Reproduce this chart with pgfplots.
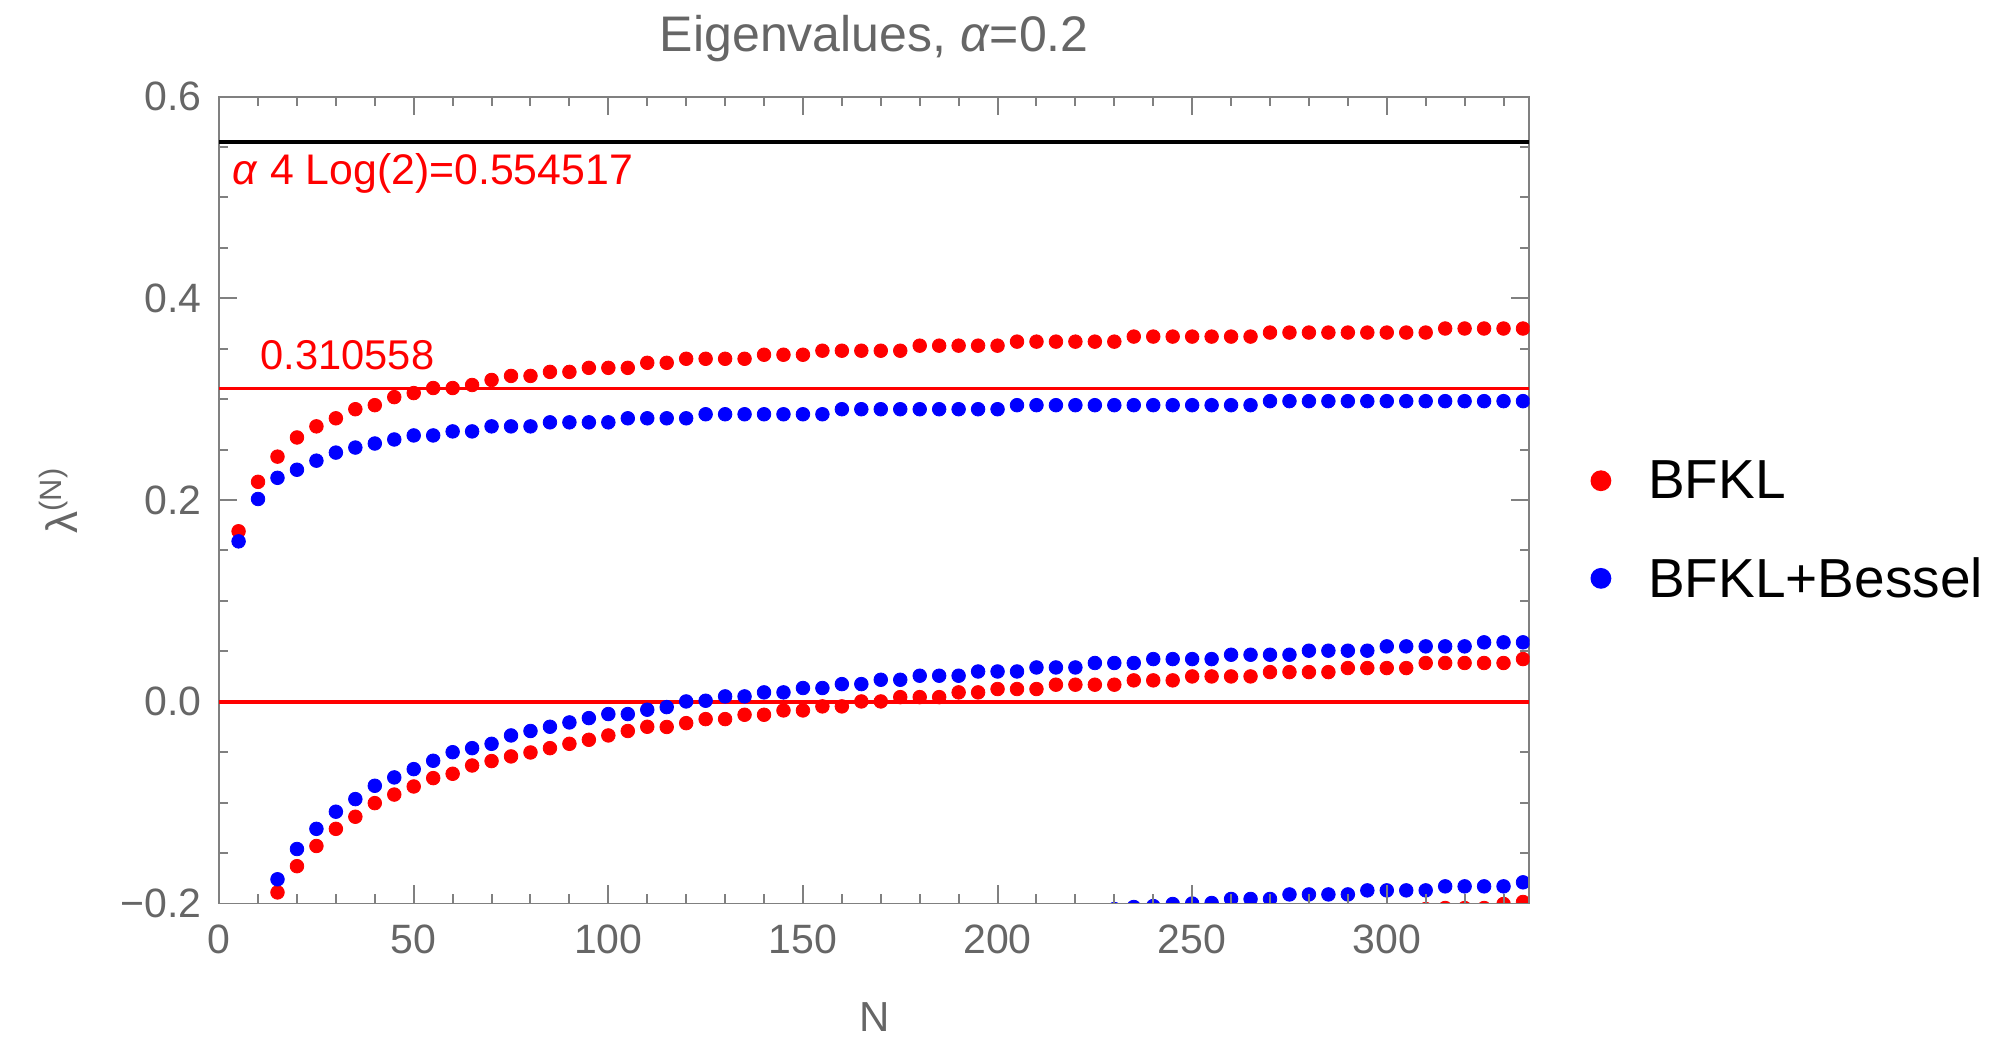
\documentclass[border=0pt]{standalone}
\usepackage{pgfplots}
\pgfplotsset{compat=1.18}
\usepackage{fontspec}
\setmainfont{Liberation Sans}
\definecolor{fgray}{rgb}{0.5,0.5,0.5}
\definecolor{tgray}{rgb}{0.4,0.4,0.4}
\begin{document}
\begin{tikzpicture}
\useasboundingbox (0,0) rectangle (498.25bp,259.75bp);
% helper axis: the third branch, whose points lie on or just below the lower frame edge
\begin{scope}
\clip (54.78bp,33.875bp) rectangle (382.36bp,235.625bp);
\begin{axis}[
  at={(54.78bp,31.353bp)}, anchor=south west,
  scale only axis, width=327.58bp, height=204.27bp,
  xmin=0, xmax=336.66, ymin=-0.21, ymax=0.6,
  hide axis, clip marker paths=true,
]
\addplot[only marks, mark=*, red, mark size=1.7bp, mark options={line width=0.2bp}] coordinates {
(310,-0.2055)(315,-0.2045)(320,-0.2045)(325,-0.2045)(330,-0.2005)(335,-0.1985)};
\addplot[only marks, mark=*, blue, mark size=1.7bp, mark options={line width=0.2bp}] coordinates {
(230,-0.2055)(235,-0.2035)(240,-0.2025)(245,-0.2005)(250,-0.200)(255,-0.1995)(260,-0.1955)(265,-0.1955)(270,-0.1955)(275,-0.191)
(280,-0.191)(285,-0.191)(290,-0.191)(295,-0.187)(300,-0.187)(305,-0.187)(310,-0.187)(315,-0.183)(320,-0.183)(325,-0.183)
(330,-0.183)(335,-0.179)};
\end{axis}
\end{scope}
\begin{axis}[
  at={(54.78bp,33.875bp)}, anchor=south west,
  scale only axis, width=327.58bp, height=201.75bp,
  xmin=0, xmax=336.66, ymin=-0.2, ymax=0.6,
  clip marker paths=true,
  axis line style={fgray, line width=0.5bp},
  tick style={fgray, line width=0.5bp},
  tick align=inside,
  major tick length=4.5bp, minor tick length=2.25bp,
  xtick={0,50,100,150,200,250,300}, xticklabels={0,50,100,150,200,250,300},
  minor xtick={10,20,30,40,60,70,80,90,110,120,130,140,160,170,180,190,210,220,230,240,260,270,280,290,310,320,330},
  ytick={-0.2,0,0.2,0.4,0.6}, yticklabels={−0.2,0.0,0.2,0.4,0.6},
  minor ytick={-0.15,-0.1,-0.05,0.05,0.1,0.15,0.25,0.3,0.35,0.45,0.5,0.55},
  tick label style={font=\fontsize{10.25bp}{12bp}\selectfont, text=tgray},
  xticklabel style={inner sep=0pt, anchor=north, yshift=-5.1bp},
  yticklabel style={inner sep=0pt, anchor=east, xshift=-4.25bp},
  title={Eigenvalues, \textit{α}=0.2},
  every axis title/.style={at={(axis description cs:0.5,1.0555)}, anchor=base, inner sep=0pt, font=\fontsize{12.5bp}{15bp}\selectfont, text=tgray},
  xlabel={N},
  x label style={at={(axis description cs:0.5,-0.1408)}, anchor=center, inner sep=0pt, font=\fontsize{10.5bp}{12bp}\selectfont, text=tgray},
  ylabel={λ\textsuperscript{(N)}},
  y label style={at={(axis description cs:-0.1226,0.5)}, anchor=center, inner sep=0pt, font=\fontsize{11bp}{13bp}\selectfont, text=tgray},
  legend cell align=left,
  legend style={at={(axis description cs:1.0466,0.5483)}, anchor=north west, draw=none, fill=none, inner sep=0pt, outer sep=0pt,
    font=\fontsize{13.75bp}{16bp}\selectfont, row sep=13.2bp, column sep=9.2bp, nodes={inner sep=0pt}},
]
% grid lines
\addplot[black, line width=1bp, forget plot] coordinates {(0,0.554517) (336.66,0.554517)};
\addplot[red, line width=0.9bp, forget plot] coordinates {(0,0.310558) (336.66,0.310558)};
\addplot[red, line width=0.9bp, forget plot] coordinates {(0,0) (336.66,0)};
% BFKL (red)
\addplot[only marks, mark=*, red, mark size=1.7bp, mark options={line width=0.2bp},
  legend image code/.code={\fill[red] (0bp,0.55bp) circle (2.4bp);}] coordinates {
(5,0.169)(10,0.218)(15,0.243)(20,0.262)(25,0.273)(30,0.281)(35,0.290)(40,0.294)(45,0.302)(50,0.306)
(55,0.311)(60,0.311)(65,0.314)(70,0.319)(75,0.323)(80,0.323)(85,0.327)(90,0.327)(95,0.331)(100,0.331)
(105,0.331)(110,0.336)(115,0.336)(120,0.340)(125,0.340)(130,0.340)(135,0.340)(140,0.344)(145,0.344)(150,0.344)
(155,0.348)(160,0.348)(165,0.348)(170,0.348)(175,0.348)(180,0.353)(185,0.353)(190,0.353)(195,0.353)(200,0.353)
(205,0.357)(210,0.357)(215,0.357)(220,0.357)(225,0.357)(230,0.357)(235,0.362)(240,0.362)(245,0.362)(250,0.362)
(255,0.362)(260,0.362)(265,0.362)(270,0.366)(275,0.366)(280,0.366)(285,0.366)(290,0.366)(295,0.366)(300,0.366)
(305,0.366)(310,0.366)(315,0.370)(320,0.370)(325,0.370)(330,0.370)(335,0.370)};
\addlegendentry{BFKL}
% BFKL+Bessel (blue)
\addplot[only marks, mark=*, blue, mark size=1.7bp, mark options={line width=0.2bp},
  legend image code/.code={\fill[blue] (0bp,0.55bp) circle (2.4bp);}] coordinates {
(5,0.159)(10,0.201)(15,0.222)(20,0.230)(25,0.239)(30,0.247)(35,0.252)(40,0.256)(45,0.260)(50,0.264)
(55,0.264)(60,0.268)(65,0.268)(70,0.273)(75,0.273)(80,0.273)(85,0.277)(90,0.277)(95,0.277)(100,0.277)
(105,0.281)(110,0.281)(115,0.281)(120,0.281)(125,0.285)(130,0.285)(135,0.285)(140,0.285)(145,0.285)(150,0.285)
(155,0.285)(160,0.290)(165,0.290)(170,0.290)(175,0.290)(180,0.290)(185,0.290)(190,0.290)(195,0.290)(200,0.290)
(205,0.294)(210,0.294)(215,0.294)(220,0.294)(225,0.294)(230,0.294)(235,0.294)(240,0.294)(245,0.294)(250,0.294)
(255,0.294)(260,0.294)(265,0.294)(270,0.298)(275,0.298)(280,0.298)(285,0.298)(290,0.298)(295,0.298)(300,0.298)
(305,0.298)(310,0.298)(315,0.298)(320,0.298)(325,0.298)(330,0.298)(335,0.298)};
\addlegendentry{BFKL+Bessel}
% lower branches
\addplot[only marks, mark=*, red, mark size=1.7bp, mark options={line width=0.2bp}, forget plot] coordinates {
(15,-0.189)(20,-0.163)(25,-0.143)(30,-0.126)(35,-0.114)(40,-0.1005)(45,-0.092)(50,-0.084)(55,-0.0757)(60,-0.0714)
(65,-0.0632)(70,-0.0588)(75,-0.0542)(80,-0.0503)(85,-0.046)(90,-0.0417)(95,-0.0377)(100,-0.0334)(105,-0.029)(110,-0.0248)
(115,-0.025)(120,-0.0212)(125,-0.0172)(130,-0.0172)(135,-0.0129)(140,-0.0129)(145,-0.0086)(150,-0.0086)(155,-0.0046)(160,-0.0046)
(165,0.0003)(170,0.0003)(175,0.0046)(180,0.0046)(185,0.0046)(190,0.0093)(195,0.0093)(200,0.0126)(205,0.0126)(210,0.0126)
(215,0.0169)(220,0.0169)(225,0.0169)(230,0.0169)(235,0.0212)(240,0.0212)(245,0.0212)(250,0.0251)(255,0.0251)(260,0.0251)
(265,0.0251)(270,0.0294)(275,0.0294)(280,0.0294)(285,0.0294)(290,0.0334)(295,0.0334)(300,0.0334)(305,0.0334)(310,0.0384)
(315,0.0384)(320,0.0384)(325,0.0384)(330,0.0384)(335,0.0423)};
\addplot[only marks, mark=*, blue, mark size=1.7bp, mark options={line width=0.2bp}, forget plot] coordinates {
(15,-0.176)(20,-0.146)(25,-0.126)(30,-0.109)(35,-0.0965)(40,-0.0833)(45,-0.075)(50,-0.0668)(55,-0.0585)(60,-0.050)
(65,-0.046)(70,-0.0417)(75,-0.0334)(80,-0.029)(85,-0.0248)(90,-0.0205)(95,-0.0162)(100,-0.0122)(105,-0.0122)(110,-0.0079)
(115,-0.0053)(120,0.0003)(125,0.001)(130,0.0053)(135,0.0053)(140,0.0093)(145,0.0093)(150,0.0136)(155,0.0136)(160,0.0175)
(165,0.0175)(170,0.0218)(175,0.0218)(180,0.0258)(185,0.0258)(190,0.0258)(195,0.030)(200,0.030)(205,0.030)(210,0.034)
(215,0.034)(220,0.034)(225,0.0384)(230,0.0384)(235,0.0384)(240,0.0423)(245,0.0423)(250,0.0423)(255,0.0423)(260,0.0466)
(265,0.0466)(270,0.0466)(275,0.0466)(280,0.0506)(285,0.0506)(290,0.0506)(295,0.0506)(300,0.0549)(305,0.0549)(310,0.0549)
(315,0.0549)(320,0.0549)(325,0.0589)(330,0.0589)(335,0.0589)};
% annotations
\node[anchor=base west, inner sep=0pt, text=red, font=\fontsize{10.7bp}{12bp}\selectfont] at (axis cs:3.3,0.5129) {\textit{α} 4 Log(2)=0.554517};
\node[anchor=base west, inner sep=0pt, text=red, font=\fontsize{10.4bp}{12bp}\selectfont] at (axis cs:10.5,0.3294) {0.310558};
\end{axis}
\end{tikzpicture}
\end{document}
